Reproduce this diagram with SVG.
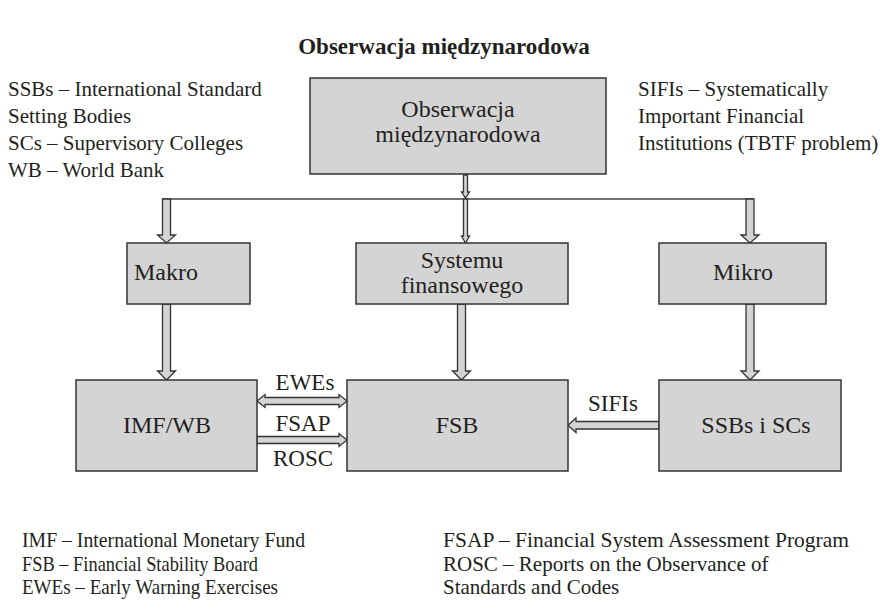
<svg xmlns="http://www.w3.org/2000/svg" width="889" height="600" viewBox="0 0 889 600">
<style>
text{font-family:"Liberation Serif","Times New Roman",serif;fill:#231f20}
.title{font-size:23px;font-weight:bold}
.lg{font-size:21px}
.nd{font-size:24px}
.el{font-size:23px}
.box{fill:#d4d4d5;stroke:#333;stroke-width:1.5}
.arr{fill:#d4d4d5;stroke:#333;stroke-width:1.3;stroke-linejoin:miter}
.ln{stroke:#444;stroke-width:1.6;fill:none}
</style>
<rect width="889" height="600" fill="#fff"/>
<text class="title" x="444" y="54" text-anchor="middle">Obserwacja międzynarodowa</text>

<g id="legend-left">
<text class="lg" x="8" y="96">SSBs – International Standard</text>
<text class="lg" x="8" y="123">Setting Bodies</text>
<text class="lg" x="8" y="150">SCs – Supervisory Colleges</text>
<text class="lg" x="8" y="177">WB – World Bank</text>
</g>
<g id="legend-right">
<text class="lg" x="638" y="96">SIFIs – Systematically</text>
<text class="lg" x="638" y="123">Important Financial</text>
<text class="lg" x="638" y="150">Institutions (TBTF problem)</text>
</g>

<g id="connectors">
<line class="ln" x1="162" y1="199" x2="754" y2="199"/>
<polygon class="arr" points="463.5,175 467.5,175 467.5,192 469.5,192 465.5,198 461.5,192 463.5,192"/>
<polygon class="arr" points="463.5,199 467.5,199 467.5,236 469.5,236 465.5,243 461.5,236 463.5,236"/>
<polygon class="arr" points="162.5,199 170.5,199 170.5,235 175.5,235 166.5,243 157.5,235 162.5,235"/>
<polygon class="arr" points="746,199 754,199 754,235 759,235 750,243 741,235 746,235"/>
<polygon class="arr" points="162.5,304 170.5,304 170.5,371 175.5,371 166.5,380 157.5,371 162.5,371"/>
<polygon class="arr" points="457.5,304 465.5,304 465.5,371 470.5,371 461.5,380 452.5,371 457.5,371"/>
<polygon class="arr" points="746,304 754,304 754,371 759,371 750,380 741,371 746,371"/>
<polygon class="arr" points="257,401 265,394.5 265,397.5 339,397.5 339,394.5 347,401 339,407.5 339,404.5 265,404.5 265,407.5"/>
<polygon class="arr" points="257,436.5 339,436.5 339,433.5 347,440 339,446.5 339,443.5 257,443.5"/>
<polygon class="arr" points="659,421.5 576,421.5 576,418 568,425.3 576,432.6 576,429 659,429"/>
<text class="el" x="305" y="390" text-anchor="middle">EWEs</text>
<text class="el" x="303" y="431" text-anchor="middle">FSAP</text>
<text class="el" x="303" y="466" text-anchor="middle">ROSC</text>
<text class="el" x="613" y="411" text-anchor="middle">SIFIs</text>
</g>

<g id="node-top">
<rect class="box" x="310" y="78" width="296" height="96"/>
<text class="nd" x="458" y="117" text-anchor="middle">Obserwacja</text>
<text class="nd" x="458" y="142" text-anchor="middle">międzynarodowa</text>
</g>
<g id="node-makro">
<rect class="box" x="127" y="243" width="123" height="61"/>
<text class="nd" x="166" y="280" text-anchor="middle">Makro</text>
</g>
<g id="node-systemu">
<rect class="box" x="356" y="243" width="212" height="61"/>
<text class="nd" x="462" y="268" text-anchor="middle">Systemu</text>
<text class="nd" x="462" y="293" text-anchor="middle">finansowego</text>
</g>
<g id="node-mikro">
<rect class="box" x="659" y="243" width="167" height="61"/>
<text class="nd" x="743" y="280" text-anchor="middle">Mikro</text>
</g>
<g id="node-imf">
<rect class="box" x="76" y="380" width="181" height="91"/>
<text class="nd" x="167" y="433" text-anchor="middle">IMF/WB</text>
</g>
<g id="node-fsb">
<rect class="box" x="347" y="380" width="221" height="91"/>
<text class="nd" x="457" y="433" text-anchor="middle">FSB</text>
</g>
<g id="node-ssbs">
<rect class="box" x="659" y="380" width="182" height="91"/>
<text class="nd" x="756" y="433" text-anchor="middle">SSBs i SCs</text>
</g>

<g id="legend-bottom">
<text class="lg" x="22" y="547" textLength="283" lengthAdjust="spacingAndGlyphs">IMF – International Monetary Fund</text>
<text class="lg" x="22" y="571" textLength="236" lengthAdjust="spacingAndGlyphs">FSB – Financial Stability Board</text>
<text class="lg" x="22" y="594" textLength="256" lengthAdjust="spacingAndGlyphs">EWEs – Early Warning Exercises</text>
<text class="lg" x="443" y="547" textLength="406" lengthAdjust="spacingAndGlyphs">FSAP – Financial System Assessment Program</text>
<text class="lg" x="443" y="571">ROSC – Reports on the Observance of</text>
<text class="lg" x="443" y="594">Standards and Codes</text>
</g>
</svg>
